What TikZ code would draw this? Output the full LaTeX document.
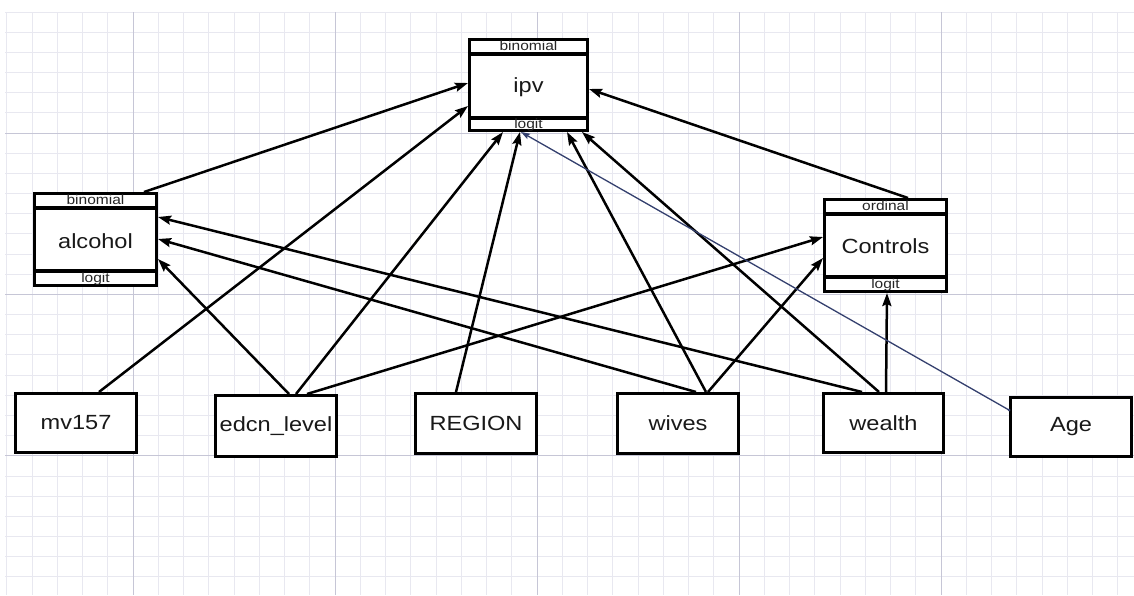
\documentclass[tikz,border=0pt]{standalone}
\usepackage{fontspec}
\setmainfont{Liberation Sans}
\usetikzlibrary{calc,arrows.meta}
\newcommand\hstretch[1]{\scalebox{1.15}[1]{#1}}
\definecolor{gridminor}{HTML}{E8E8F0}
\definecolor{gridmajor}{HTML}{C6C6D6}
\definecolor{agecol}{HTML}{34406E}
\begin{document}
\begin{tikzpicture}[x=1pt,y=-1pt,
  box/.style={draw=black, line width=3pt, fill=white, inner sep=0pt},
  sepline/.style={draw=black, line width=4pt},
  lbl/.style={font=\fontsize{20.5}{21}\selectfont, text=black!90, inner sep=0pt},
  sml/.style={font=\fontsize{13.5}{14}\selectfont, text=black!85, inner sep=0pt},
  edge/.style={draw=black, line width=2.5pt, -{Stealth[length=13pt,width=9pt,inset=2pt]}},
  ageedge/.style={draw=agecol, line width=1.3pt, -{Stealth[length=9pt,width=6pt,inset=1.5pt]}},
]
\useasboundingbox (0,0) rectangle (1134,595);
\fill[white] (0,0) rectangle (1134,595);
% grid
\foreach \k in {0,...,29}{
  \pgfmathsetmacro\yy{12+\k*20.17}
  \draw[gridminor, line width=0.8pt] (5,\yy) -- (1134,\yy);
}
\foreach \j in {0,...,44}{
  \pgfmathsetmacro\xx{6.75+\j*25.25}
  \draw[gridminor, line width=0.8pt] (\xx,12) -- (\xx,595);
}
\foreach \k in {6,14,22}{
  \pgfmathsetmacro\yy{12+\k*20.17}
  \draw[gridmajor, line width=0.9pt] (5,\yy) -- (1134,\yy);
}
\foreach \j in {5,13,21,29,37}{
  \pgfmathsetmacro\xx{6.75+\j*25.25}
  \draw[gridmajor, line width=0.9pt] (\xx,12) -- (\xx,595);
}

% ipv
\node[box, minimum width=118pt, minimum height=91pt] (ipv) at (528.5,85) {};
\draw[sepline] ($(ipv.north west)+(0,16)$) -- ($(ipv.north east)+(0,16)$);
\draw[sepline] ($(ipv.south west)+(0,-14)$) -- ($(ipv.south east)+(0,-14)$);
\node[sml] (ipvtop) at ($(ipv.north)+(0,8)$) {\hstretch{binomial}};
\node[lbl] (ipvlbl) at ($(ipv.center)+(0,2)$) {\hstretch{ipv}};
\node[sml] (ipvbot) at ($(ipv.south)+(0,-6.5)$) {\hstretch{logit}};

% alcohol
\node[box, minimum width=122pt, minimum height=92pt] (alcohol) at (95.5,239.5) {};
\draw[sepline] ($(alcohol.north west)+(0,16)$) -- ($(alcohol.north east)+(0,16)$);
\draw[sepline] ($(alcohol.south west)+(0,-16)$) -- ($(alcohol.south east)+(0,-16)$);
\node[sml] (alctop) at ($(alcohol.north)+(0,8)$) {\hstretch{binomial}};
\node[lbl] (alclbl) at ($(alcohol.center)+(0,1.5)$) {\hstretch{alcohol}};
\node[sml] (alcbot) at ($(alcohol.south)+(0,-8)$) {\hstretch{logit}};

% Controls
\node[box, minimum width=122pt, minimum height=92pt] (controls) at (885.5,245.5) {};
\draw[sepline] ($(controls.north west)+(0,16)$) -- ($(controls.north east)+(0,16)$);
\draw[sepline] ($(controls.south west)+(0,-16)$) -- ($(controls.south east)+(0,-16)$);
\node[sml] (ctltop) at ($(controls.north)+(0,8)$) {\hstretch{ordinal}};
\node[lbl] (ctllbl) at ($(controls.center)+(0,0.5)$) {\hstretch{Controls}};
\node[sml] (ctlbot) at ($(controls.south)+(0,-8)$) {\hstretch{logit}};

% bottom row
\node[box, lbl, minimum width=121pt, minimum height=59pt] (mv) at (76,423) {\hstretch{mv157}};
\node[box, lbl, minimum width=121pt, minimum height=61pt] (edcn) at (276,426) {\hstretch{edcn\_level}};
\node[box, lbl, minimum width=121pt, minimum height=60pt] (region) at (476,423.5) {\hstretch{REGION}};
\node[box, lbl, minimum width=121pt, minimum height=60pt] (wives) at (678,423.5) {\hstretch{wives}};
\node[box, lbl, minimum width=120pt, minimum height=59pt] (wealth) at (883.5,423) {\hstretch{wealth}};
\node[box, lbl, minimum width=121pt, minimum height=59pt] (age) at (1071,427) {\hstretch{Age}};

% edges
\draw[edge] ($(alcohol.north west)+(111,0)$) -- ($(ipv.north west)+(0,45)$);
\draw[edge] ($(mv.north west)+(85,0)$) -- ($(ipv.north west)+(0,68)$);
\draw[edge] ($(edcn.north west)+(82,0)$) -- ($(ipv.south west)+(35,0)$);
\draw[edge] ($(edcn.north west)+(75,0)$) -- ($(alcohol.north east)+(0,67)$);
\draw[edge] ($(edcn.north west)+(93,0)$) -- ($(controls.north west)+(0,39)$);
\draw[edge] ($(region.north west)+(42,0)$) -- ($(ipv.south west)+(52,0)$);
\draw[edge] ($(wives.north west)+(90,0)$) -- ($(ipv.south west)+(99,0)$);
\draw[edge] ($(wives.north west)+(80,0)$) -- ($(alcohol.north east)+(0,47)$);
\draw[edge] ($(wives.north west)+(92,0)$) -- ($(controls.north west)+(0,60)$);
\draw[edge] ($(wealth.north west)+(57,0)$) -- ($(ipv.south west)+(114,0)$);
\draw[edge] ($(wealth.north west)+(40,0)$) -- ($(alcohol.north east)+(0,25)$);
\draw[edge] ($(wealth.north west)+(64,0)$) -- ($(controls.south west)+(64,0)$);
\draw[edge] ($(controls.north west)+(85,0)$) -- ($(ipv.north east)+(0,51)$);
\draw[ageedge] ($(age.north west)+(0,14)$) -- ($(ipv.south west)+(53,0)$);
\fill[agecol] ($(age.north west)+(0,14)$) circle (1.5pt);
\end{tikzpicture}
\end{document}
